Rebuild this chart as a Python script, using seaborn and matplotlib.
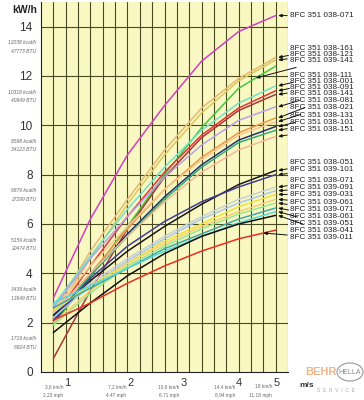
import numpy as np
import pandas as pd
import matplotlib
matplotlib.use("Agg")
import matplotlib.pyplot as plt
from matplotlib.patches import Ellipse
import seaborn as sns

# x positions in grid units (20 grid cells across the plot), y in kWh
grid_x = [1, 4, 7, 10, 13, 16, 19]

labels = [
    "8FC 351 038-071", "8FC 351 038-161", "8FC 351 038-121", "8FC 351 039-141",
    "8FC 351 038-111", "8FC 351 038-001", "8FC 351 038-091", "8FC 351 038-141",
    "8FC 351 038-081", "8FC 351 038-021", "8FC 351 038-131", "8FC 351 038-101",
    "8FC 351 038-151",
    "8FC 351 038-051", "8FC 351 039-101", "8FC 351 038-071 ", "8FC 351 039-091",
    "8FC 351 039-031", "8FC 351 039-061", "8FC 351 039-071", "8FC 351 038-061",
    "8FC 351 039-051", "8FC 351 038-041", "8FC 351 039-011",
]

values = [
    [3.0, 6.2, 8.8, 10.8, 12.6, 13.8, 14.45],
    [2.4, 4.9, 7.0, 9.0, 10.7, 11.9, 12.75],
    [2.3, 4.6, 6.8, 8.8, 10.5, 11.8, 12.65],
    [1.9, 3.9, 5.9, 8.0, 9.9, 11.5, 12.4],
    [2.7, 4.7, 6.6, 8.3, 9.8, 10.9, 11.6],
    [2.2, 4.3, 6.3, 8.1, 9.6, 10.7, 11.4],
    [0.55, 3.3, 5.8, 7.9, 9.5, 10.6, 11.25],
    [2.6, 4.6, 6.3, 7.9, 9.2, 10.2, 10.75],
    [2.1, 4.0, 5.8, 7.4, 8.7, 9.7, 10.3],
    [2.5, 4.3, 5.9, 7.4, 8.6, 9.6, 10.15],
    [2.0, 3.9, 5.6, 7.1, 8.4, 9.4, 9.95],
    [2.2, 3.9, 5.5, 7.0, 8.3, 9.3, 9.8],
    [2.4, 4.0, 5.5, 6.9, 8.1, 9.0, 9.55],
    [2.3, 3.7, 4.9, 5.9, 6.8, 7.6, 8.17],
    [2.1, 3.8, 5.1, 6.1, 6.9, 7.5, 8.0],
    [2.4, 3.6, 4.6, 5.5, 6.3, 7.0, 7.5],
    [2.2, 3.5, 4.5, 5.4, 6.2, 6.85, 7.35],
    [2.5, 3.5, 4.4, 5.3, 6.0, 6.7, 7.2],
    [2.0, 3.3, 4.4, 5.2, 5.9, 6.5, 7.0],
    [1.9, 3.2, 4.3, 5.1, 5.8, 6.4, 6.85],
    [2.6, 3.4, 4.2, 5.0, 5.6, 6.2, 6.65],
    [2.8, 3.5, 4.2, 4.9, 5.5, 6.05, 6.5],
    [1.6, 2.8, 3.9, 4.8, 5.5, 6.0, 6.35],
    [2.1, 2.8, 3.6, 4.3, 4.9, 5.4, 5.75],
]

colors = [
    "#d040c0", "#e8b870", "#d8c860", "#40c840", "#70e0c8", "#e03838",
    "#a83838", "#b8a0e8", "#f09848", "#f8c890", "#283070", "#30b070",
    "#f4b898",
    "#181818", "#404090", "#c8d0d8", "#a8c8e8", "#f0e040", "#f8d070",
    "#98e890", "#40a8a8", "#58d8d8", "#101010", "#e83020",
]

# label text rows (pixel y of the label in the 400 px tall picture)
label_y_px = [16, 49, 55, 61, 76, 82, 88, 94, 101, 108, 116, 123, 130,
              163, 170, 181, 188, 195, 203, 210, 217, 224, 231, 238]
arrow_x = [19.2] * 24
arrow_x[3] = 17.4
arrow_x[23] = 18.0

y_ticks = [0, 2, 4, 6, 8, 10, 12, 14]
kcal = ["1719 kcal/h", "3439 kcal/h", "5159 kcal/h", "6879 kcal/h",
        "8598 kcal/h", "10318 kcal/h", "12038 kcal/h"]
btu = ["6824 BTU", "13649 BTU", "20474 BTU", "27299 BTU",
       "34123 BTU", "40949 BTU", "47773 BTU"]

x_tick_pos = [1.9, 7.0, 11.3, 15.8, 18.8]
x_tick_lab = ["1", "2", "3", "4", "5"]
kmh = ["3,6 km/h", "7,2 km/h", "10,8 km/h", "14,4 km/h", "18 km/h"]
mph = ["2.23 mph", "4.47 mph", "6.71 mph", "8.94 mph", "11.18 mph"]

rows = []
for lab, vals in zip(labels, values):
    for gx, v in zip(grid_x, vals):
        rows.append({"x": gx, "kwh": v, "model": lab})
df = pd.DataFrame(rows)

sns.set_style("white")
plt.rcParams["font.family"] = ["Liberation Sans", "DejaVu Sans"]

fig = plt.figure(figsize=(3.64, 4.0), dpi=100)
ax = fig.add_axes([41 / 364, 28 / 400, 247 / 364, 370 / 400])
ax.set_facecolor("#faf8c2")

for g in range(1, 21):
    ax.axvline(g, color="#4a4a22", lw=0.8, zorder=1)
for yv in y_ticks[1:]:
    ax.axhline(yv, color="#4a4a22", lw=0.8, zorder=1)

sns.lineplot(data=df, x="x", y="kwh", hue="model", palette=dict(zip(labels, colors)),
             hue_order=labels, lw=1.1, legend=False, ax=ax, zorder=3)

ax.set_xlim(0, 20)
ax.set_ylim(0, 15)
ax.set_xlabel("")
ax.set_ylabel("")
for s in ["top", "right"]:
    ax.spines[s].set_visible(False)
ax.spines["left"].set_color("#222222")
ax.spines["bottom"].set_color("#222222")

ax.set_yticks(y_ticks)
ax.set_yticklabels([str(t) for t in y_ticks], fontsize=8.5, color="#333333")
ax.tick_params(axis="y", direction="out", length=4, width=0.8, color="#222222", pad=2)
ax.set_xticks(x_tick_pos)
ax.set_xticklabels([])
ax.tick_params(axis="x", direction="out", length=3, width=0.6, color="#444444")

for yv, k, b in zip(y_ticks[1:], kcal, btu):
    ax.text(-0.4, yv - 0.65, k, fontsize=3.6, style="italic", color="#666666",
            ha="right", va="center", clip_on=False)
    ax.text(-0.4, yv - 1.0, b, fontsize=3.6, style="italic", color="#666666",
            ha="right", va="center", clip_on=False)

for xp, t, k, m in zip(x_tick_pos, x_tick_lab, kmh, mph):
    ax.text(xp, -0.45, t, fontsize=8, color="#333333", ha="left", va="center", clip_on=False)
    ax.text(xp - 0.1, -0.6, k, fontsize=3.4, color="#666666", ha="right", va="center", clip_on=False)
    ax.text(xp - 0.1, -0.95, m, fontsize=3.4, color="#666666", ha="right", va="center", clip_on=False)
ax.text(20.9, -0.55, "m/s", fontsize=6, weight="bold", color="#333333",
        ha="left", va="center", clip_on=False)

fig.text(25 / 364, 1 - 10 / 400, "kW/h", fontsize=7.5, weight="bold",
         color="#222222", ha="center", va="center")

for lab, ypx, ax_x, vals in zip(labels, label_y_px, arrow_x, values):
    yv = (372 - ypx) / 24.64
    tv = np.interp(ax_x, grid_x, vals)
    ax.annotate(lab.strip(), xy=(ax_x, tv), xytext=(20.2, yv),
                fontsize=5.9, color="#222222", ha="left", va="center",
                annotation_clip=False,
                arrowprops=dict(arrowstyle="-|>,head_length=0.35,head_width=0.15",
                                color="#111111", lw=0.7, shrinkA=0, shrinkB=0))

# logo
fig.text(321 / 364, 1 - 372 / 400, "BEHR", fontsize=8, weight="bold",
         color="#f2b488", ha="center", va="center")
fig.patches.append(Ellipse((350 / 364, 1 - 372 / 400), 26 / 364, 18 / 400,
                           transform=fig.transFigure, fill=False,
                           edgecolor="#999999", lw=0.8))
fig.text(350 / 364, 1 - 372 / 400, "HELLA", fontsize=5, color="#888888",
         ha="center", va="center")
fig.text(336 / 364, 1 - 391 / 400, "S  E  R  V  I  C  E", fontsize=3.5,
         color="#aaaaaa", ha="center", va="center")

fig.savefig("out.png", dpi=100)
